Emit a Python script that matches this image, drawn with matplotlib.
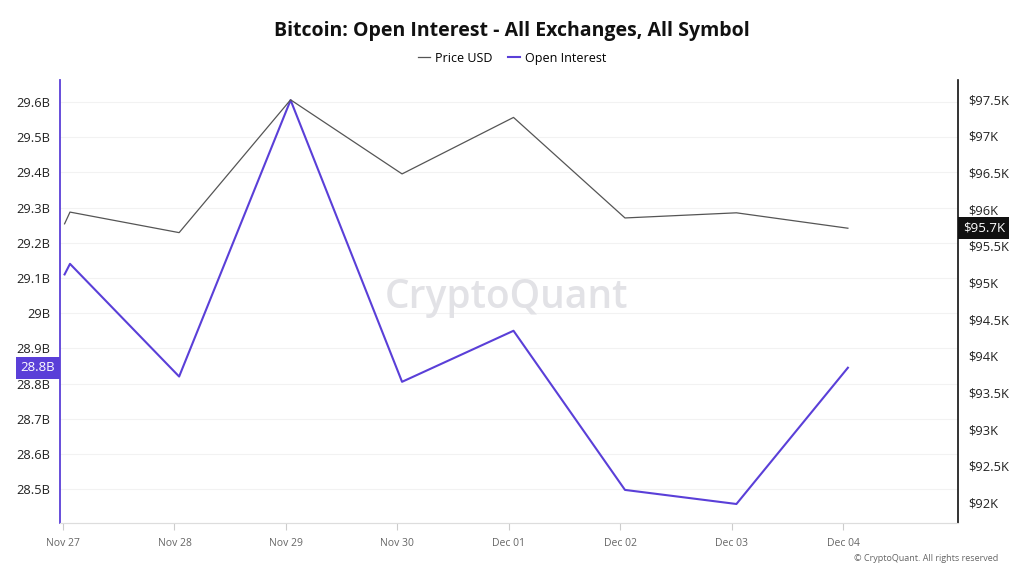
import numpy as np
import pandas as pd
import matplotlib
matplotlib.use("Agg")
import matplotlib.pyplot as plt
import matplotlib.dates as mdates

plt.rcParams["font.family"] = ["Open Sans", "DejaVu Sans"]

# data
times = pd.to_datetime([
    "2024-11-27 00:20", "2024-11-27 01:30", "2024-11-28 01:00", "2024-11-29 01:00",
    "2024-11-30 01:00", "2024-12-01 01:00", "2024-12-02 01:00", "2024-12-03 01:00",
    "2024-12-04 01:00",
])
price_k = [95.80, 95.96, 95.68, 97.49, 96.48, 97.25, 95.88, 95.95, 95.74]
open_interest_b = [29.11, 29.14, 28.82, 29.605, 28.805, 28.95, 28.498, 28.458, 28.845]

tick_dates = pd.date_range("2024-11-27", "2024-12-04", freq="D")
left_ticks = [28.5, 28.6, 28.7, 28.8, 28.9, 29.0, 29.1, 29.2, 29.3, 29.4, 29.5, 29.6]
right_ticks = [92, 92.5, 93, 93.5, 94, 94.5, 95, 95.5, 96, 96.5, 97, 97.5]

oi_color = "#5a3fd8"
price_color = "#555555"

fig = plt.figure(figsize=(10.24, 5.76), dpi=100)
ax = fig.add_axes([0.0586, 0.092, 0.877, 0.769])
ax2 = ax.twinx()

ax.plot(times, open_interest_b, color=oi_color, lw=1.5, zorder=3)
ax2.plot(times, price_k, color=price_color, lw=0.9, zorder=2)

x0 = pd.Timestamp("2024-11-27") - pd.Timedelta(hours=0.65)
x1 = pd.Timestamp("2024-11-27") + pd.Timedelta(days=8.03)
ax.set_xlim(x0, x1)
ax.set_ylim(28.404, 29.662)
ax2.set_ylim(91.723, 97.759)

ax.set_yticks(left_ticks)
ax.set_yticklabels([f"{v:g}B" for v in left_ticks], fontsize=9.3, color="#222222")
ax2.set_yticks(right_ticks)
ax2.set_yticklabels([f"${v:g}K" for v in right_ticks], fontsize=9.3, color="#222222")
ax.tick_params(axis="y", length=0, pad=7)
ax2.tick_params(axis="y", length=0, pad=7)

ax.set_xticks(tick_dates)
ax.xaxis.set_major_formatter(mdates.DateFormatter("%b %d"))
ax.tick_params(axis="x", length=5, color="#cccccc", labelsize=7.5, labelcolor="#666666", pad=6)

ax.grid(axis="y", color="#f2f2f2", lw=0.8)
ax.set_axisbelow(True)

for a in (ax, ax2):
    a.spines["top"].set_visible(False)
    a.spines["bottom"].set_color("#dddddd")
ax.spines["left"].set_color(oi_color)
ax.spines["left"].set_linewidth(1.3)
ax2.spines["left"].set_visible(False)
ax.spines["right"].set_visible(False)
ax2.spines["right"].set_color("#111111")
ax2.spines["right"].set_linewidth(1.2)

# current value tags
ax.annotate(f"{open_interest_b[-1]:.1f}B", xy=(0, open_interest_b[-1]),
            xycoords=("axes fraction", "data"), xytext=(-3.3, 0), textcoords="offset points",
            ha="right", va="center", fontsize=9.5, color="white",
            bbox=dict(boxstyle="square,pad=0.35", fc=oi_color, ec="none"))
ax2.annotate(f"${price_k[-1]:.1f}K", xy=(1, price_k[-1]),
             xycoords=("axes fraction", "data"), xytext=(3.3, 0), textcoords="offset points",
             ha="left", va="center", fontsize=9.5, color="white",
             bbox=dict(boxstyle="square,pad=0.35", fc="#111111", ec="none"))

fig.text(0.5, 0.947, "Bitcoin: Open Interest - All Exchanges, All Symbol",
         ha="center", va="center", fontsize=14, fontweight="bold", color="#111111")

handles = [plt.Line2D([], [], color=price_color, lw=0.9),
           plt.Line2D([], [], color=oi_color, lw=1.5)]
fig.legend(handles, ["Price USD", "Open Interest"], loc="center", bbox_to_anchor=(0.5, 0.899),
           ncol=2, frameon=False, fontsize=9, handlelength=1.0, handletextpad=0.4,
           columnspacing=1.2)

fig.text(0.495, 0.482, "CryptoQuant", ha="center", va="center", fontsize=28,
         fontweight="semibold", color="#e2e2e6", zorder=0)
fig.text(0.975, 0.031, "© CryptoQuant. All rights reserved", ha="right", va="center",
         fontsize=6.5, color="#666666")

fig.savefig("out.png", dpi=100)
